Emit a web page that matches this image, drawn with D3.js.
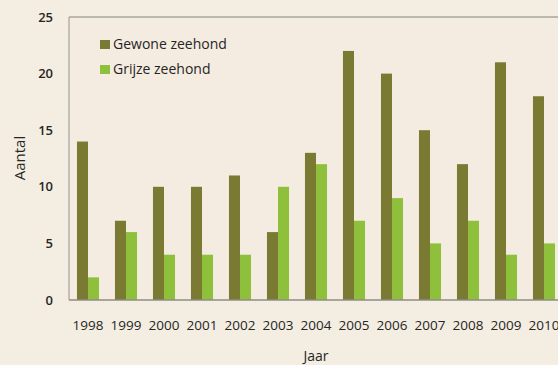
<!DOCTYPE html>
<html>
<head>
<meta charset="utf-8">
<script src="https://cdn.jsdelivr.net/npm/d3@7"></script>
<style>
  body { margin: 0; background: #f3ece0; }
  svg { display: block; font-family: "Open Sans", "Noto Sans", sans-serif; }
</style>
</head>
<body>
<svg id="chart" width="558" height="365"></svg>
<script>
(function() {

    var years = ['1998', '1999', '2000', '2001', '2002', '2003', '2004',
                 '2005', '2006', '2007', '2008', '2009', '2010'];
    var gewone = [14, 7, 10, 10, 11, 6, 13, 22, 20, 15, 12, 21, 18];
    var grijze = [2, 6, 4, 4, 4, 10, 12, 7, 9, 5, 7, 4, 5];
    var seriesNames = ['Gewone zeehond', 'Grijze zeehond'];
    var yTicks = [0, 5, 10, 15, 20, 25];

    var colours = ['#7b7a33', '#8fc03c'];
    var ink = '#26261f';

    var svg = d3.select('#chart');
    var left = 69, top = 17, bottom = 300, right = 563;

    svg.append('rect')
        .attr('width', 558).attr('height', 365)
        .attr('fill', '#f3ede2');
    svg.append('rect')
        .attr('x', left).attr('y', top)
        .attr('width', 558 - left).attr('height', bottom - top)
        .attr('fill', '#f4ebe1');

    var x = d3.scaleBand()
        .domain(years)
        .range([left, right])
        .paddingInner(0.42)
        .paddingOuter(0.21);

    var xs = d3.scaleBand()
        .domain(seriesNames)
        .range([0, x.bandwidth()]);

    var y = d3.scaleLinear()
        .domain([0, 25])
        .range([bottom, top]);

    var data = years.map(function(yr, i) {
        return { year: yr, values: [gewone[i], grijze[i]] };
    });

    var groups = svg.selectAll('g.year').data(data)
        .enter().append('g')
        .attr('class', 'year')
        .attr('transform', function(d) { return 'translate(' + x(d.year) + ',0)'; });

    groups.selectAll('rect')
        .data(function(d) {
            return d.values.map(function(v, j) { return { name: seriesNames[j], v: v, j: j }; });
        })
        .enter().append('rect')
        .attr('x', function(d) { return xs(d.name); })
        .attr('y', function(d) { return y(d.v); })
        .attr('width', xs.bandwidth())
        .attr('height', function(d) { return bottom - y(d.v); })
        .attr('fill', function(d) { return colours[d.j]; });

    // axes lines
    svg.append('line')
        .attr('x1', left).attr('x2', 558)
        .attr('y1', top).attr('y2', top)
        .attr('stroke', '#a9a69e').attr('stroke-width', 1.5);
    svg.append('line')
        .attr('x1', left).attr('x2', left)
        .attr('y1', top).attr('y2', bottom)
        .attr('stroke', '#b4b0a8').attr('stroke-width', 1.5);
    svg.append('line')
        .attr('x1', left).attr('x2', 558)
        .attr('y1', bottom).attr('y2', bottom)
        .attr('stroke', '#8f8c86').attr('stroke-width', 1.5);

    // y tick labels
    svg.selectAll('text.ytick').data(yTicks)
        .enter().append('text')
        .attr('class', 'ytick')
        .attr('x', 53)
        .attr('y', function(d) { return y(d); })
        .attr('dy', '0.35em')
        .attr('text-anchor', 'end')
        .attr('font-size', 13)
        .attr('font-weight', 600)
        .attr('fill', ink)
        .text(function(d) { return d; });

    // x tick labels
    svg.selectAll('text.xtick').data(years)
        .enter().append('text')
        .attr('class', 'xtick')
        .attr('x', function(d) { return x(d) + x.bandwidth() / 2; })
        .attr('y', 330)
        .attr('text-anchor', 'middle')
        .attr('font-size', 13.5)
        .attr('fill', ink)
        .text(function(d) { return d; });

    svg.append('text')
        .attr('x', 316).attr('y', 361)
        .attr('text-anchor', 'middle')
        .attr('font-size', 14)
        .attr('fill', ink)
        .text('Jaar');

    svg.append('text')
        .attr('transform', 'translate(25,158) rotate(-90)')
        .attr('text-anchor', 'middle')
        .attr('font-size', 15)
        .attr('fill', ink)
        .text('Aantal');

    // legend
    var legend = svg.selectAll('g.legend').data(seriesNames)
        .enter().append('g')
        .attr('class', 'legend')
        .attr('transform', function(d, i) { return 'translate(100,' + (40 + i * 25) + ')'; });
    legend.append('rect')
        .attr('width', 10).attr('height', 9)
        .attr('fill', function(d, i) { return colours[i]; });
    legend.append('text')
        .attr('x', 13).attr('y', 4.5)
        .attr('dy', '0.35em')
        .attr('font-size', 14)
        .attr('fill', ink)
        .text(function(d) { return d; });
})();
</script>
</body>
</html>
